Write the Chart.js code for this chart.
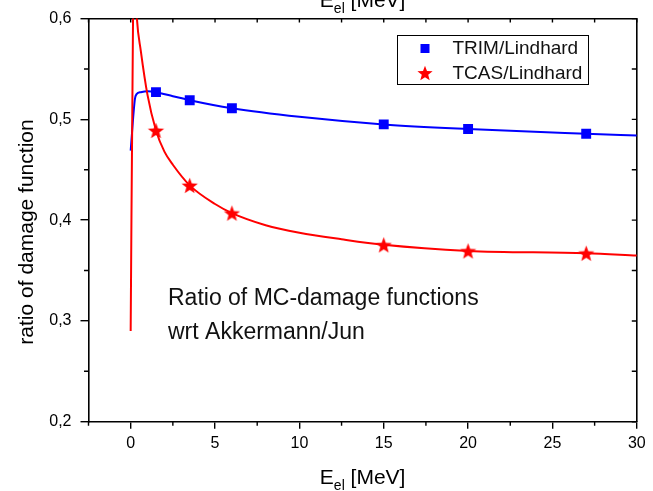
<!DOCTYPE html>
<html>
<head>
<meta charset="utf-8">
<script src="https://cdn.jsdelivr.net/npm/chart.js@4.4.1/dist/chart.umd.min.js"></script>
<style>
  html, body { margin: 0; padding: 0; background: #ffffff; }
  #wrap { width: 653px; height: 491px; }
</style>
</head>
<body>
<div id="wrap"><canvas id="chart" width="653" height="491"></canvas></div>
<script>
const FONT = '"Liberation Sans", Arial, Helvetica, sans-serif';

// Electron energy E_el [MeV] and damage-function ratios
const trimCurveX = [0, 0.25, 0.35, 0.6, 1.0, 1.5, 2.5, 3.5, 6, 10, 15, 20, 27, 30];
const trimCurveY = [0.469, 0.520, 0.525, 0.527, 0.528, 0.527, 0.523, 0.519, 0.511, 0.5025, 0.495, 0.4905, 0.4858, 0.484];

const tcasCurveX = [0, 0.14, 0.25, 0.37, 0.6, 1.0, 1.5, 2.0, 2.5, 3.5, 5, 6, 8, 10, 12.5, 15, 20, 27, 30];
const tcasCurveY = [0.29, 0.60, 0.645, 0.60, 0.568, 0.524, 0.489, 0.468, 0.455, 0.4345, 0.416, 0.407, 0.395, 0.3875, 0.381, 0.3755, 0.3695, 0.3672, 0.3648];

const pointX = [1.5, 3.5, 6, 15, 20, 27];
const trimPointY = [0.527, 0.519, 0.511, 0.495, 0.4905, 0.4858];
const tcasPointY = [0.489, 0.4345, 0.407, 0.3755, 0.3695, 0.3672];

// Axis ticks
const xTickValues = [0, 5, 10, 15, 20, 25, 30];
const xMinorValues = [-2.5, 2.5, 7.5, 12.5, 17.5, 22.5, 27.5];
const yTickValues = [0.2, 0.3, 0.4, 0.5, 0.6];
const yMinorValues = [0.25, 0.35, 0.45, 0.55];

const seriesNames = ['TRIM/Lindhard', 'TCAS/Lindhard'];
const noteLines = ['Ratio of MC-damage functions', 'wrt Akkermann/Jun'];

const BLUE = '#0000ff';
const RED = '#ff0000';

const toXY = (xs, ys) => xs.map((x, i) => ({ x: x, y: ys[i] }));

// Filled five-pointed star used as a point style
function makeStar(r, color) {
  const size = Math.ceil(r * 2) + 2;
  const c = document.createElement('canvas');
  c.width = size; c.height = size;
  const g = c.getContext('2d');
  const cx = size / 2, cy = size / 2 + r * 0.1;
  g.beginPath();
  for (let i = 0; i < 10; i++) {
    const rad = (i % 2 === 0) ? r : r * 0.42;
    const a = -Math.PI / 2 + i * Math.PI / 5;
    const px = cx + rad * Math.cos(a), py = cy + rad * Math.sin(a);
    if (i === 0) g.moveTo(px, py); else g.lineTo(px, py);
  }
  g.closePath();
  g.fillStyle = color;
  g.fill();
  return c;
}
const starImg = makeStar(8.5, RED);
const legendStar = makeStar(8, RED);

// E with subscript "el" followed by the unit
function drawEnergyLabel(ctx, cx, baseline) {
  const big = '21px ' + FONT, small = '14px ' + FONT;
  ctx.font = big; const wE = ctx.measureText('E').width;
  const wRest = ctx.measureText(' [MeV]').width;
  ctx.font = small; const wSub = ctx.measureText('el').width;
  let x = cx - (wE + wSub + wRest) / 2;
  ctx.textAlign = 'left';
  ctx.textBaseline = 'alphabetic';
  ctx.font = big; ctx.fillText('E', x, baseline); x += wE;
  ctx.font = small; ctx.fillText('el', x, baseline + 6); x += wSub;
  ctx.font = big; ctx.fillText(' [MeV]', x, baseline);
}

const decor = {
  id: 'decor',
  afterDraw(chart) {
    const ctx = chart.ctx;
    const area = chart.chartArea;
    const xs = chart.scales.x, ys = chart.scales.y;
    ctx.save();
    ctx.strokeStyle = '#000';
    ctx.lineWidth = 1.4;
    ctx.beginPath();
    // minor ticks on the bottom and left axes (outward)
    xMinorValues.forEach(v => {
      const px = xs.getPixelForValue(v);
      ctx.moveTo(px, area.bottom); ctx.lineTo(px, area.bottom + 4);
    });
    yMinorValues.forEach(v => {
      const py = ys.getPixelForValue(v);
      ctx.moveTo(area.left, py); ctx.lineTo(area.left - 4.5, py);
    });
    // inward ticks on the top and right axes
    xTickValues.concat(xMinorValues).forEach(v => {
      const px = xs.getPixelForValue(v);
      ctx.moveTo(px, area.top); ctx.lineTo(px, area.top + 4);
    });
    yTickValues.concat(yMinorValues).forEach(v => {
      const py = ys.getPixelForValue(v);
      ctx.moveTo(area.right, py); ctx.lineTo(area.right - 5, py);
    });
    ctx.stroke();

    ctx.fillStyle = '#000';
    // axis titles
    drawEnergyLabel(ctx, (area.left + area.right) / 2, 483.5);
    drawEnergyLabel(ctx, (area.left + area.right) / 2, 6.5);

    ctx.save();
    ctx.translate(32.5, 232);
    ctx.rotate(-Math.PI / 2);
    ctx.font = '21px ' + FONT;
    ctx.textAlign = 'center';
    ctx.textBaseline = 'alphabetic';
    ctx.fillText('ratio of damage function', 0, 0);
    ctx.restore();

    // note inside the plot
    ctx.font = '23px ' + FONT;
    ctx.textAlign = 'left';
    ctx.textBaseline = 'alphabetic';
    ctx.fillStyle = '#111';
    ctx.fillText(noteLines[0], 168, 305);
    ctx.fillText(noteLines[1], 168, 339);

    // legend box
    const lx = 397, ly = 35, lw = 191, lh = 49;
    ctx.fillStyle = '#fff';
    ctx.fillRect(lx, ly, lw, lh);
    ctx.strokeStyle = '#000';
    ctx.lineWidth = 1;
    ctx.strokeRect(lx + 0.5, ly + 0.5, lw, lh);
    ctx.fillStyle = BLUE;
    ctx.fillRect(425 - 4.5, 48.5 - 4.5, 9, 9);
    ctx.drawImage(legendStar, 425 - legendStar.width / 2, 73 - legendStar.height / 2);
    ctx.fillStyle = '#111';
    ctx.font = '19px ' + FONT;
    ctx.textBaseline = 'middle';
    ctx.fillText(seriesNames[0], 452.5, 49);
    ctx.fillText(seriesNames[1], 452.5, 74);
    ctx.restore();
  }
};

const commaFmt = v => Number(v).toFixed(1).replace('.', ',');

new Chart(document.getElementById('chart'), {
  type: 'line',
  data: {
    datasets: [
      {
        label: seriesNames[0] + ' points',
        data: toXY(pointX, trimPointY),
        showLine: false,
        pointStyle: 'rect',
        pointRadius: 7,
        pointHoverRadius: 7,
        pointBackgroundColor: BLUE,
        pointBorderWidth: 0,
        order: 0
      },
      {
        label: seriesNames[1] + ' points',
        data: toXY(pointX, tcasPointY),
        showLine: false,
        pointStyle: starImg,
        pointRadius: 8,
        pointBorderWidth: 0,
        order: 1
      },
      {
        label: seriesNames[0],
        data: toXY(trimCurveX, trimCurveY),
        borderColor: BLUE,
        borderWidth: 2,
        pointRadius: 0,
        cubicInterpolationMode: 'monotone',
        fill: false,
        order: 3
      },
      {
        label: seriesNames[1],
        data: toXY(tcasCurveX, tcasCurveY),
        borderColor: RED,
        borderWidth: 2,
        pointRadius: 0,
        cubicInterpolationMode: 'monotone',
        fill: false,
        order: 2
      }
    ]
  },
  options: {
    responsive: false,
    animation: false,
    events: [],
    layout: { padding: 0 },
    plugins: { legend: { display: false }, tooltip: { enabled: false }, title: { display: false } },
    scales: {
      x: {
        type: 'linear', position: 'bottom', min: -2.5, max: 30,
        afterBuildTicks: s => { s.ticks = xTickValues.map(v => ({ value: v })); },
        afterFit: s => { s.height = 69.3; },
        ticks: { font: { family: FONT, size: 16 }, color: '#000', padding: 5, maxRotation: 0, autoSkip: false, callback: v => String(v) },
        grid: { display: true, drawOnChartArea: false, drawTicks: true, tickLength: 7, color: '#000', lineWidth: 1.4 },
        border: { display: true, color: '#000', width: 1.6 }
      },
      x2: {
        type: 'linear', position: 'top', min: -2.5, max: 30,
        afterFit: s => { s.height = 15.7; },
        ticks: { display: false },
        grid: { display: false, drawTicks: false },
        border: { display: true, color: '#000', width: 1.6 }
      },
      y: {
        type: 'linear', position: 'left', min: 0.2, max: 0.6,
        afterBuildTicks: s => { s.ticks = yTickValues.map(v => ({ value: v })); },
        afterFit: s => { s.width = 88.5; },
        ticks: { font: { family: FONT, size: 16 }, color: '#000', padding: 9, autoSkip: false, callback: commaFmt },
        grid: { display: true, drawOnChartArea: false, drawTicks: true, tickLength: 8, color: '#000', lineWidth: 1.4 },
        border: { display: true, color: '#000', width: 1.6 }
      },
      y2: {
        type: 'linear', position: 'right', min: 0.2, max: 0.6,
        afterFit: s => { s.width = 16.2; },
        ticks: { display: false },
        grid: { display: false, drawTicks: false },
        border: { display: true, color: '#000', width: 1.6 }
      }
    }
  },
  plugins: [decor]
});
</script>
</body>
</html>
